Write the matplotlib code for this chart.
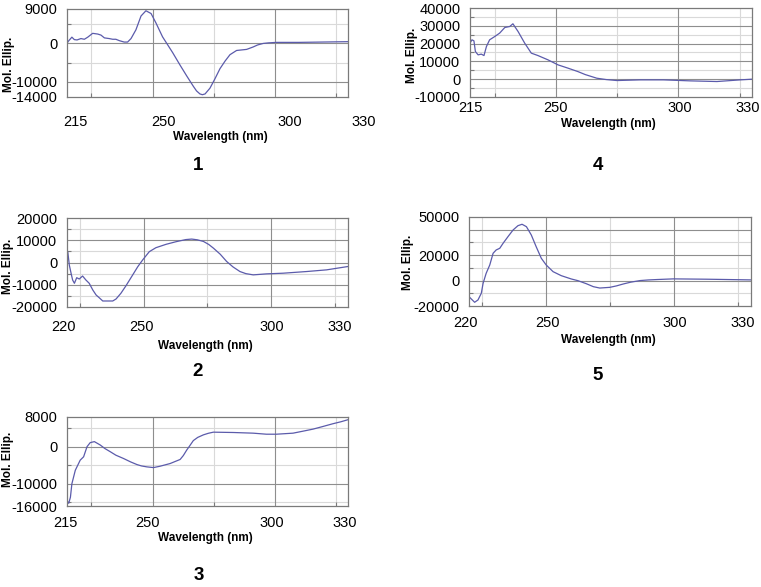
"""Five CD spectra (Mol. Ellip. vs wavelength), panels 1-5."""

import matplotlib

matplotlib.use("Agg")
import matplotlib.pyplot as plt

plt.rcParams.update({
    "font.family": ["Liberation Sans", "DejaVu Sans"],
    "font.size": 10.5,
})

W, H = 761, 587
LINE = "#5b5bab"
GRID_DARK = "#8e8e8e"
GRID_LIGHT = "#d9d9d9"
FRAME = "#7a7a7a"

# ---- data -----------------------------------------------------------
wl1 = [215, 215.5, 217, 218, 219.1, 220.7, 222.1, 223.5, 225.5, 227.6, 228.9,
       230.3, 232.3, 233.7, 235, 236.4, 238.4, 239.8, 241.2, 243.2, 245.3,
       247.3, 249.4, 251.4, 254.1, 258.2, 261.3, 264, 266.7, 268, 269.4,
       270.4, 271.5, 273.5, 275.5, 277.6, 279.7, 281.7, 284.4, 288.5, 291.2,
       293, 295.3, 297.5, 300.7, 310, 330]
me1 = [0, 545, 1640, 1000, 910, 1270, 1090, 1640, 2640, 2450, 2180,
       1450, 1270, 1090, 1090, 730, 360, 360, 1270, 3550, 7180,
       8540, 7820, 5360, 1730, -2360, -5700, -8500, -11200, -12400, -13200,
       -13400, -13200, -11700, -9300, -6600, -4600, -2940, -1840, -1560, -920,
       -400, 0, 150, 275, 275, 460]

wl2 = [220, 220.3, 220.9, 221.6, 222.2, 222.9, 223.8, 224.8, 226.1, 227.4,
       228.7, 230.1, 231.4, 232.6, 234, 235.9, 237.9, 239.2, 241.1, 243.1,
       245.7, 247.7, 249.6, 252.2, 254.8, 258.8, 262.7, 266.5, 268.8, 271,
       273.4, 275.5, 277.3, 280, 282.5, 285, 287.7, 290, 292.9, 298.1,
       304.6, 313.8, 321.6, 330]
me2 = [5000, 4850, -1120, -4850, -7870, -9350, -6830, -7420, -6070, -7870,
       -9350, -12360, -14610, -15820, -17300, -17300, -17300, -16400, -13840, -10430,
       -5620, -1890, 1120, 4850, 6650, 8180, 9350, 10300, 10530, 10200,
       9470, 8100, 6470, 3700, 450, -2000, -4060, -5000, -5560, -5110,
       -4810, -4060, -3310, -1800]

wl3 = [215, 215.7, 216.4, 217, 218.4, 220.4, 221.8, 223.2, 224.5, 226.2,
       228.6, 230.5, 232.7, 235, 238.1, 241, 243.6, 245.5, 247.7, 250.4,
       253.1, 257.2, 261.3, 262.6, 264, 265.3, 266.7, 268.5, 270.8, 272.8,
       274.9, 283.1, 291.2, 296.6, 300.7, 307.5, 311, 315.7, 319.5, 323.8,
       327, 330]
me3 = [-14550, -15270, -13640, -10000, -6360, -3640, -2730, 0, 1090, 1360,
       450, -500, -1360, -2300, -3180, -4100, -4820, -5200, -5450, -5640,
       -5270, -4550, -3450, -2400, -910, 300, 1640, 2500, 3180, 3600,
       3910, 3820, 3640, 3360, 3360, 3640, 4100, 4730, 5400, 6180,
       6700, 7270]

wl4 = [215, 215.8, 216.6, 217.2, 218.3, 219.6, 220.7, 221.7, 223, 225.1,
       227.1, 229.2, 231.2, 232.5, 234.6, 237.3, 240, 242.7, 246.8, 250.9,
       255, 259, 262, 266.7, 270.5, 274.9, 284.4, 293.9, 304.8, 315.7,
       325.2, 330]
me4 = [20270, 22130, 21560, 15540, 13680, 14080, 13290, 18350, 22130, 23980,
       25900, 29050, 29610, 31130, 26800, 20270, 14640, 13290, 10870, 8050,
       6190, 4280, 2600, 560, -200, -750, -375, -375, -940, -1310,
       -375, 0]

wl5 = [220, 220.9, 222.2, 223.5, 224.8, 225.5, 226.7, 228.1, 229.4, 230.6,
       232, 233.3, 235.2, 237.2, 239.1, 240.7, 242.4, 244.3, 246.2, 248.2,
       250.1, 252.8, 256, 259.9, 262.5, 265.8, 268.5, 271, 274.9, 277.5,
       280.2, 283, 286.7, 290, 293.2, 299.7, 312.7, 330]
me5 = [-12660, -14470, -17070, -15260, -9990, -2120, 5740, 12270, 21470, 24070,
       25400, 29340, 34530, 39800, 43180, 44280, 42390, 35860, 26660, 17540,
       12270, 7000, 3850, 1260, -80, -2500, -4800, -5870, -5330, -4200,
       -2670, -1300, 0, 500, 800, 1330, 1070, 530]

xlims = {1: (215, 330), 2: (220, 330), 3: (215, 330), 4: (215, 330), 5: (220, 330)}
ylims = {1: (-14000, 9000), 2: (-20000, 20000), 3: (-16000, 8000),
         4: (-10000, 40000), 5: (-20000, 50000)}
yticks = {1: [-14000, -10000, 0, 9000],
          2: [-20000, -10000, 0, 10000, 20000],
          3: [-16000, -10000, 0, 8000],
          4: [-10000, 0, 10000, 20000, 30000, 40000],
          5: [-20000, 0, 20000, 50000]}
ygrid_major = {1: [-10000, 0], 2: [-10000, 0, 10000], 3: [-10000, 0],
               4: [0, 10000, 20000, 30000], 5: [0, 20000, 40000]}
ygrid_minor = {1: [-5000, 5000], 2: [-15000, -5000, 5000, 15000],
               3: [-15000, -5000, 5000],
               4: [-5000, 5000, 15000, 25000, 35000],
               5: [-10000, 10000, 30000]}
xgrid_major = [250, 300]
xgrid_minor = [225, 275, 325]
xtick_text = {1: ["215", "250", "300", "330"], 2: ["220", "250", "300", "330"],
              3: ["215", "250", "300", "330"], 4: ["215", "250", "300", "330"],
              5: ["220", "250", "300", "330"]}
series = {1: (wl1, me1), 2: (wl2, me2), 3: (wl3, me3), 4: (wl4, me4), 5: (wl5, me5)}

# ---- layout in pixels -------------------------------------------------
# axes box (left, top, right, bottom)
boxes = {1: (67, 9, 348, 97), 2: (67, 218, 348, 307), 3: (67, 417, 348, 506),
         4: (470, 8, 752, 97), 5: (469, 217, 751, 306)}
# x tick label centres (px) and their row
xlab_px = {1: [75, 163, 290, 364], 2: [63, 142, 272, 340], 3: [65, 148, 272, 345],
           4: [470, 556, 680, 748], 5: [465, 547, 675, 743]}
xlab_y = {1: 122, 2: 327, 3: 523, 4: 108, 5: 323}
wave_pos = {1: (220, 137), 2: (205, 346), 3: (205, 538), 4: (608, 124), 5: (608, 340)}
num_pos = {1: (198, 166), 2: (198, 372), 3: (199, 576), 4: (598, 166), 5: (598, 375)}
mol_pos = {1: (9, 64), 2: (8, 266), 3: (8, 459), 4: (412, 55), 5: (408, 262)}


def fx(px):
    return px / W


def fy(py):
    return 1 - py / H


fig = plt.figure(figsize=(W / 100, H / 100), dpi=100)

for k in [1, 2, 3, 4, 5]:
    l, t, r, b = boxes[k]
    ax = fig.add_axes([fx(l), fy(b), (r - l) / W, (b - t) / H])
    ax.set_xlim(*xlims[k])
    ax.set_ylim(*ylims[k])
    for v in ygrid_minor[k]:
        ax.axhline(v, color=GRID_LIGHT, lw=0.8, zorder=0)
    for v in xgrid_minor:
        ax.axvline(v, color=GRID_LIGHT, lw=0.8, zorder=0)
    for v in ygrid_major[k]:
        ax.axhline(v, color=GRID_DARK, lw=0.8, zorder=0.5)
    for v in xgrid_major:
        ax.axvline(v, color=GRID_DARK, lw=0.8, zorder=0.5)
    x, y = series[k]
    ax.plot(x, y, color=LINE, lw=0.9, zorder=2)

    ax.set_yticks(yticks[k])
    ax.set_yticklabels([str(v) for v in yticks[k]])
    ax.set_yticks(ygrid_minor[k], minor=True)
    ax.set_xticks([])
    ax.set_xticks(xgrid_minor, minor=True)
    ax.tick_params(axis="y", which="major", length=0, pad=7, labelsize=10.5)
    ax.tick_params(which="minor", direction="in", length=3, color=FRAME, width=0.8)
    for s in ax.spines.values():
        s.set_color(FRAME)
        s.set_linewidth(0.9)

    for px, txt in zip(xlab_px[k], xtick_text[k]):
        fig.text(fx(px), fy(xlab_y[k]), txt, ha="center", va="center", fontsize=10.5)
    wx, wy = wave_pos[k]
    fig.text(fx(wx), fy(wy), "Wavelength (nm)", ha="center", va="center",
             fontsize=8.5, fontweight="bold")
    mx, my = mol_pos[k]
    fig.text(fx(mx), fy(my), "Mol. Ellip.", ha="center", va="center",
             fontsize=8.5, fontweight="bold", rotation=90)
    nx, ny = num_pos[k]
    fig.text(fx(nx), fy(ny), str(k), ha="center", va="center",
             fontsize=13.5, fontweight="bold")

fig.savefig("out.png", dpi=100)
